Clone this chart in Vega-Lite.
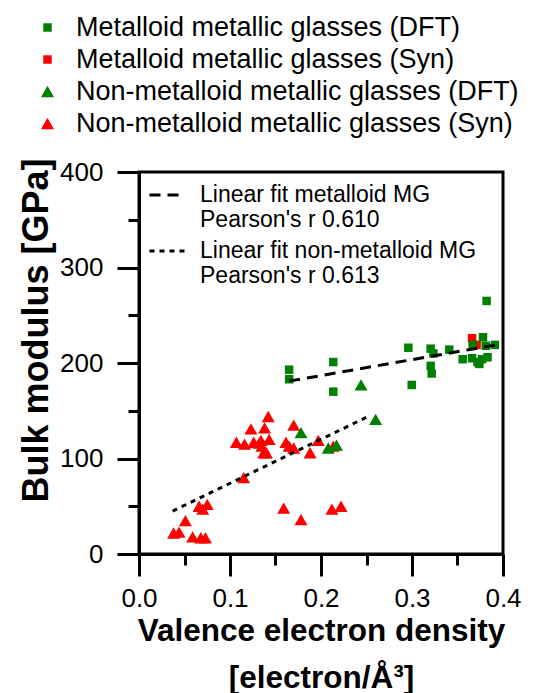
{
  "$schema": "https://vega.github.io/schema/vega-lite/v6.json",
  "autosize": {"type": "none"},
  "padding": {"left": 139, "top": 172, "right": 33, "bottom": 139},
  "width": 364,
  "height": 382,
  "background": "white",
  "config": {
    "font": "Liberation Sans",
    "view": {"stroke": "black", "strokeWidth": 3},
    "axis": {"grid": false, "domainColor": "black", "domainWidth": 3, "tickColor": "black", "tickWidth": 3, "labelColor": "black", "titleColor": "black", "labelFont": "Liberation Sans", "titleFont": "Liberation Sans", "labelFlush": false},
    "legend": {"labelFont": "Liberation Sans", "labelColor": "black", "padding": 0, "labelLimit": 0}
  },
  "datasets": {
    "points": [
      {"x": 0.366, "y": 226, "series": "Metalloid metallic glasses (Syn)"},
      {"x": 0.371, "y": 219, "series": "Metalloid metallic glasses (Syn)"},
      {"x": 0.038, "y": 22, "series": "Non-metalloid metallic glasses (Syn)"},
      {"x": 0.044, "y": 23, "series": "Non-metalloid metallic glasses (Syn)"},
      {"x": 0.051, "y": 35, "series": "Non-metalloid metallic glasses (Syn)"},
      {"x": 0.059, "y": 18, "series": "Non-metalloid metallic glasses (Syn)"},
      {"x": 0.068, "y": 17, "series": "Non-metalloid metallic glasses (Syn)"},
      {"x": 0.073, "y": 17, "series": "Non-metalloid metallic glasses (Syn)"},
      {"x": 0.066, "y": 50, "series": "Non-metalloid metallic glasses (Syn)"},
      {"x": 0.070, "y": 47, "series": "Non-metalloid metallic glasses (Syn)"},
      {"x": 0.075, "y": 52, "series": "Non-metalloid metallic glasses (Syn)"},
      {"x": 0.115, "y": 80, "series": "Non-metalloid metallic glasses (Syn)"},
      {"x": 0.107, "y": 117, "series": "Non-metalloid metallic glasses (Syn)"},
      {"x": 0.116, "y": 115, "series": "Non-metalloid metallic glasses (Syn)"},
      {"x": 0.123, "y": 131, "series": "Non-metalloid metallic glasses (Syn)"},
      {"x": 0.126, "y": 117, "series": "Non-metalloid metallic glasses (Syn)"},
      {"x": 0.132, "y": 116, "series": "Non-metalloid metallic glasses (Syn)"},
      {"x": 0.134, "y": 119, "series": "Non-metalloid metallic glasses (Syn)"},
      {"x": 0.138, "y": 132, "series": "Non-metalloid metallic glasses (Syn)"},
      {"x": 0.142, "y": 144, "series": "Non-metalloid metallic glasses (Syn)"},
      {"x": 0.143, "y": 120, "series": "Non-metalloid metallic glasses (Syn)"},
      {"x": 0.137, "y": 106, "series": "Non-metalloid metallic glasses (Syn)"},
      {"x": 0.140, "y": 106, "series": "Non-metalloid metallic glasses (Syn)"},
      {"x": 0.135, "y": 113, "series": "Non-metalloid metallic glasses (Syn)"},
      {"x": 0.159, "y": 48, "series": "Non-metalloid metallic glasses (Syn)"},
      {"x": 0.170, "y": 135, "series": "Non-metalloid metallic glasses (Syn)"},
      {"x": 0.1615, "y": 117, "series": "Non-metalloid metallic glasses (Syn)"},
      {"x": 0.165, "y": 113, "series": "Non-metalloid metallic glasses (Syn)"},
      {"x": 0.170, "y": 111, "series": "Non-metalloid metallic glasses (Syn)"},
      {"x": 0.178, "y": 36, "series": "Non-metalloid metallic glasses (Syn)"},
      {"x": 0.188, "y": 106, "series": "Non-metalloid metallic glasses (Syn)"},
      {"x": 0.197, "y": 119, "series": "Non-metalloid metallic glasses (Syn)"},
      {"x": 0.212, "y": 47, "series": "Non-metalloid metallic glasses (Syn)"},
      {"x": 0.222, "y": 50, "series": "Non-metalloid metallic glasses (Syn)"},
      {"x": 0.2135, "y": 113, "series": "Non-metalloid metallic glasses (Syn)"},
      {"x": 0.165, "y": 193, "series": "Metalloid metallic glasses (DFT)"},
      {"x": 0.165, "y": 183, "series": "Metalloid metallic glasses (DFT)"},
      {"x": 0.2135, "y": 201, "series": "Metalloid metallic glasses (DFT)"},
      {"x": 0.2135, "y": 170, "series": "Metalloid metallic glasses (DFT)"},
      {"x": 0.296, "y": 216, "series": "Metalloid metallic glasses (DFT)"},
      {"x": 0.2997, "y": 177, "series": "Metalloid metallic glasses (DFT)"},
      {"x": 0.3205, "y": 215, "series": "Metalloid metallic glasses (DFT)"},
      {"x": 0.3235, "y": 210, "series": "Metalloid metallic glasses (DFT)"},
      {"x": 0.3205, "y": 197, "series": "Metalloid metallic glasses (DFT)"},
      {"x": 0.3216, "y": 189, "series": "Metalloid metallic glasses (DFT)"},
      {"x": 0.341, "y": 214, "series": "Metalloid metallic glasses (DFT)"},
      {"x": 0.3557, "y": 204, "series": "Metalloid metallic glasses (DFT)"},
      {"x": 0.3667, "y": 219, "series": "Metalloid metallic glasses (DFT)"},
      {"x": 0.378, "y": 227, "series": "Metalloid metallic glasses (DFT)"},
      {"x": 0.381, "y": 218, "series": "Metalloid metallic glasses (DFT)"},
      {"x": 0.391, "y": 219, "series": "Metalloid metallic glasses (DFT)"},
      {"x": 0.382, "y": 265, "series": "Metalloid metallic glasses (DFT)"},
      {"x": 0.366, "y": 205, "series": "Metalloid metallic glasses (DFT)"},
      {"x": 0.372, "y": 201, "series": "Metalloid metallic glasses (DFT)"},
      {"x": 0.377, "y": 204, "series": "Metalloid metallic glasses (DFT)"},
      {"x": 0.383, "y": 206, "series": "Metalloid metallic glasses (DFT)"},
      {"x": 0.374, "y": 199, "series": "Metalloid metallic glasses (DFT)"},
      {"x": 0.178, "y": 127, "series": "Non-metalloid metallic glasses (DFT)"},
      {"x": 0.208, "y": 111, "series": "Non-metalloid metallic glasses (DFT)"},
      {"x": 0.217, "y": 114, "series": "Non-metalloid metallic glasses (DFT)"},
      {"x": 0.260, "y": 141, "series": "Non-metalloid metallic glasses (DFT)"},
      {"x": 0.244, "y": 177, "series": "Non-metalloid metallic glasses (DFT)"}
    ],
    "fits": [
      {"x": 0.165, "y": 181, "fit": "Linear fit metalloid MG"},
      {"x": 0.393, "y": 219, "fit": "Linear fit metalloid MG"},
      {"x": 0.037, "y": 45, "fit": "Linear fit non-metalloid MG"},
      {"x": 0.254, "y": 145, "fit": "Linear fit non-metalloid MG"}
    ]
  },
  "layer": [
    {
      "data": {"name": "points"},
      "mark": {"type": "point", "filled": true, "opacity": 1},
      "encoding": {
        "x": {"field": "x", "type": "quantitative", "scale": {"domain": [0, 0.4], "nice": false, "zero": false},
          "axis": {"orient": "bottom", "values": [0, 0.1, 0.2, 0.3, 0.4], "format": ".1f", "tickSize": 22, "labelFontSize": 26, "labelPadding": 9,
            "title": ["Valence electron density", "[electron/Å³]"], "titleFontSize": 31.5, "titleFontWeight": "bold", "titlePadding": 4, "titleLineHeight": 47}},
        "y": {"field": "y", "type": "quantitative", "scale": {"domain": [0, 400], "nice": false},
          "axis": {"orient": "left", "values": [0, 100, 200, 300, 400], "tickSize": 22, "labelFontSize": 26, "labelPadding": 14,
            "title": "Bulk modulus [GPa]", "titleFontSize": 36, "titleFontWeight": "bold", "titlePadding": 4, "titleY": 158}},
        "color": {"field": "series", "type": "nominal",
          "scale": {"domain": ["Metalloid metallic glasses (DFT)", "Metalloid metallic glasses (Syn)", "Non-metalloid metallic glasses (DFT)", "Non-metalloid metallic glasses (Syn)"], "range": ["#008000", "#ff0000", "#008000", "#ff0000"]},
          "legend": {"title": null, "orient": "none", "legendX": -105, "legendY": -158, "labelFontSize": 27, "labelOffset": 15, "symbolSize": 70, "rowPadding": 4, "symbolStrokeWidth": 0}},
        "shape": {"field": "series", "type": "nominal",
          "scale": {"domain": ["Metalloid metallic glasses (DFT)", "Metalloid metallic glasses (Syn)", "Non-metalloid metallic glasses (DFT)", "Non-metalloid metallic glasses (Syn)"], "range": ["square", "square", "triangle-up", "triangle-up"]}},
        "size": {"field": "series", "type": "ordinal",
          "scale": {"type": "ordinal", "domain": ["Metalloid metallic glasses (DFT)", "Metalloid metallic glasses (Syn)", "Non-metalloid metallic glasses (DFT)", "Non-metalloid metallic glasses (Syn)"], "range": [72, 72, 170, 170]}, "legend": null}
      }
    },
    {
      "data": {"name": "fits"},
      "mark": {"type": "line", "color": "black", "strokeWidth": 3},
      "encoding": {
        "x": {"field": "x", "type": "quantitative",
          "axis": {"orient": "bottom", "values": [0.05, 0.15, 0.25, 0.35], "labels": false, "domain": false, "tickSize": 11, "title": null}},
        "y": {"field": "y", "type": "quantitative",
          "axis": {"orient": "left", "values": [50, 150, 250, 350], "labels": false, "domain": false, "tickSize": 11, "title": null}},
        "strokeDash": {"field": "fit", "type": "nominal",
          "scale": {"domain": ["Linear fit metalloid MG", "Linear fit non-metalloid MG"], "range": [[11, 7], [5, 5]]},
          "legend": {"title": null, "orient": "none", "legendX": 9, "legendY": 4, "labelFontSize": 23, "labelOffset": 14, "symbolSize": 1225, "symbolType": "stroke", "symbolStrokeColor": "black", "symbolStrokeWidth": 3, "labelBaseline": "middle", "rowPadding": -3,
            "labelExpr": "[datum.label, datum.label === 'Linear fit metalloid MG' ? \"Pearson's r 0.610\" : \"Pearson's r 0.613\"]"}}
      }
    }
  ],
  "resolve": {"axis": {"x": "independent", "y": "independent"}}
}
